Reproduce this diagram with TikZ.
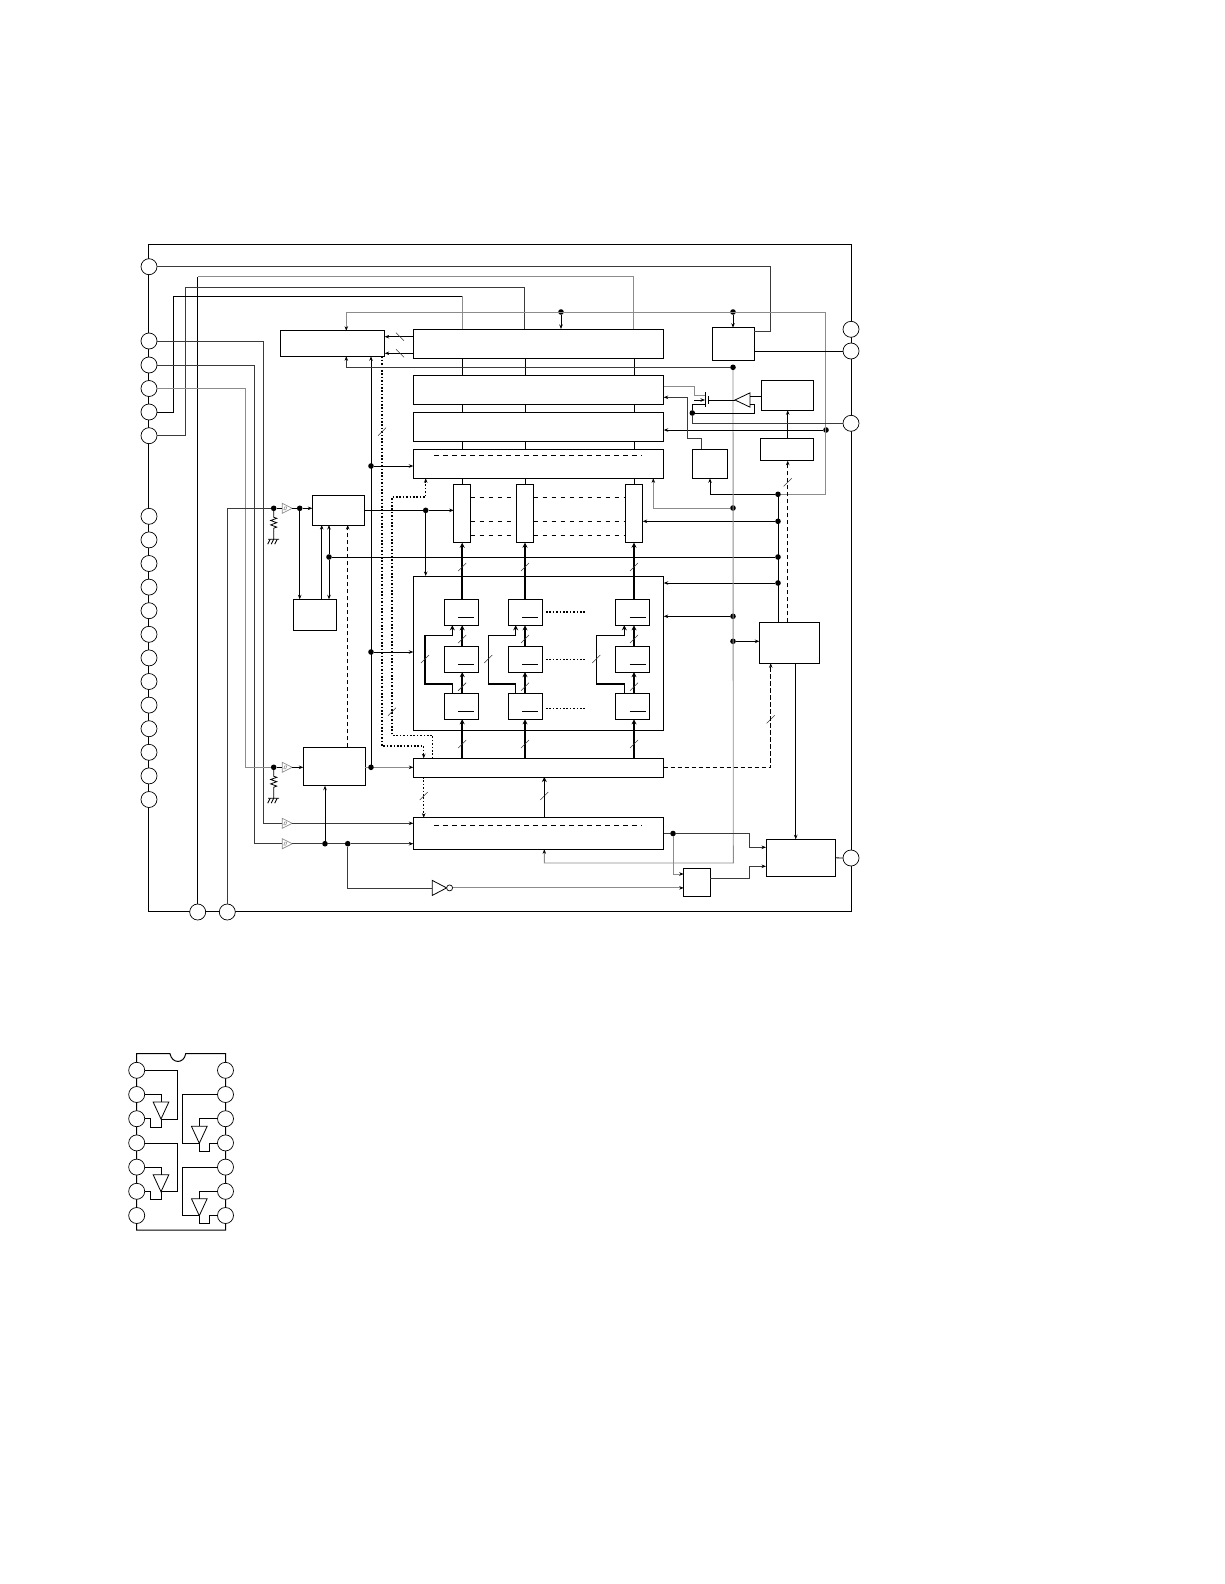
\documentclass[tikz,border=0pt]{standalone}
\definecolor{wiregrey}{HTML}{3A3A3A}
\definecolor{palegrey}{HTML}{8C8C8C}
\usepackage{tikz}
\usetikzlibrary{positioning,shapes.geometric,arrows.meta,calc}
\newcommand{\busslash}[1]{\draw[slashmark] #1 ++(-4,4) -- ++(8,-8);}
\newcommand{\tiedown}[1]{%
  \draw[strong] (#1) -- ++(0,9) -- ++(3,1) -- ++(-6,2.2) -- ++(6,2.2) -- ++(-6,2.2) -- ++(6,2.2) -- ++(-3,1.1) -- ++(0,11) coordinate (gnd) ++(-5.5,0) -- ++(11,0);
  \foreach \gx in {-3.5,0,3.5} {\draw[strong] ($(gnd)+(\gx,0)$) -- ++(-2.5,5);}}

\begin{document}
\begin{tikzpicture}[
  x=1pt, y=-1pt,
  block/.style={draw=black, fill=white, line width=0.9pt, inner sep=0pt, outer sep=0pt},
  cell/.style={block, minimum width=33.7pt, minimum height=26pt},
  mem/.style={block, minimum width=250.4pt, minimum height=29pt},
  col/.style={block, minimum height=58.4pt},
  pad/.style={draw=black, fill=white, circle, line width=0.7pt, minimum size=16pt, inner sep=0pt, outer sep=0pt},
  dot/.style={fill=black, circle, minimum size=5.6pt, inner sep=0pt, outer sep=0pt},
  wire/.style={wiregrey, line width=0.7pt},
  pale/.style={palegrey, line width=0.9pt},
  strong/.style={black, line width=0.8pt},
  bus/.style={black, line width=1.5pt},
  arrow/.style={-{Stealth[length=4.5pt,width=3.5pt,black]}},
  busarrow/.style={-{Stealth[length=5pt,width=5pt,black]}},
  dashbus/.style={black, line width=1.4pt, dash pattern=on 4.5pt off 2.5pt},
  dotbus/.style={black, line width=1.2pt, dash pattern=on 1.6pt off 1.8pt},
  rowdash/.style={black, line width=0.5pt, dash pattern=on 4.5pt off 4.5pt},
  slashmark/.style={wiregrey, line width=0.6pt},
  buffer/.style={draw=palegrey, fill=white, isosceles triangle, isosceles triangle stretches, line width=0.7pt, minimum width=10pt, minimum height=10pt, inner sep=0pt, outer sep=0pt, anchor=lower side},
  tri/.style={draw=black, fill=white, isosceles triangle, isosceles triangle stretches, line width=0.8pt, inner sep=0pt, outer sep=0pt, anchor=lower side}
]
  \useasboundingbox (0,0) rectangle (1224,1584);

  % chip outline and pads
  \node[draw=black, line width=1.6pt, minimum width=703pt, minimum height=667pt, inner sep=0pt] (chip) at (500,578) {};
  \foreach \n/\y in {1/266.7,2/341,3/365,4/388.5,5/412,6/435.7,7/516.3,8/539.9,9/563.5,10/587.1,11/610.7,12/634.3,13/657.9,14/681.5,15/705.1,16/728.7,17/752.3,18/775.9,19/799.5}
    {\node[pad] (pinL\n) at (149,\y) {};}
  \node[pad] (pinB1) at (197.7,912) {};
  \node[pad] (pinB2) at (227.3,912) {};
  \node[pad] (pinR1) at (851,329.3) {};
  \node[pad] (pinR2) at (851,351) {};
  \node[pad] (pinR3) at (851,423.3) {};
  \node[pad] (pinR4) at (851,858) {};

  % blocks
  \node[block, minimum width=104pt, minimum height=25.6pt] (shreg) at (332.7,343.5) {};
  \node[mem] (memA) at (538.5,343.5) {};
  \node[mem] (memB) at (538.5,389.8) {};
  \node[mem] (memC) at (538.5,426.8) {};
  \node[mem] (memD) at (538.5,463.8) {};
  \node[col, minimum width=17pt] (colA) at (462.2,513.5) {};
  \node[col, minimum width=17.4pt] (colB) at (525,513.5) {};
  \node[col, minimum width=17.4pt] (colC) at (634,513.5) {};
  \node[block, minimum width=51.7pt, minimum height=29.3pt] (ctlB) at (338.15,510.35) {};
  \node[block, minimum width=42.6pt, minimum height=31pt] (ctlC) at (315,614.8) {};
  \node[block, minimum width=61.7pt, minimum height=38.4pt] (ctlD) at (334.15,766.5) {};
  \node[block, minimum width=250.4pt, minimum height=154pt] (memE) at (538.5,653) {};
  \node[block, minimum width=250.4pt, minimum height=18.7pt] (barF) at (538.5,767.65) {};
  \node[block, minimum width=250.4pt, minimum height=31.6pt] (memG) at (538.5,833.5) {};
  \node[block, minimum width=42.3pt, minimum height=32.6pt] (memH) at (733.15,344) {};
  \node[block, minimum width=52pt, minimum height=29.6pt] (memI) at (787.7,395.5) {};
  \node[block, minimum width=53.4pt, minimum height=22.7pt] (memJ) at (787,449.35) {};
  \node[block, minimum width=35.4pt, minimum height=29pt] (memK) at (710,463.8) {};
  \node[block, minimum width=60pt, minimum height=41pt] (memL) at (789.3,642.8) {};
  \node[block, minimum width=69.3pt, minimum height=37pt] (memM) at (800.65,857.8) {};
  \node[block, minimum width=26.3pt, minimum height=27.6pt] (memN) at (696.85,882.5) {};
  \foreach \c/\cx in {A/461.15,B/525.15,C/632.7}
    \foreach \r/\cy in {1/612.3,2/659.15,3/706.3} {
      \node[cell] (cell\c\r) at (\cx,\cy) {};
      \draw[strong] ($(cell\c\r)+(-3,5)$) -- ++(16,0);
    }

  % buffers, amplifier, inverter
  \node[buffer] (bufA) at (282.3,508.3) {};
  \node[buffer] (bufD) at (282.3,767.3) {};
  \node[buffer] (bufB) at (282.3,823.3) {};
  \node[buffer] (bufC) at (282.3,843.7) {};
  \foreach \b in {bufA,bufB,bufC,bufD}
    {\draw[palegrey, line width=0.5pt] ($(\b.lower side)+(1.5,1.5)$) -- ++(2,0) -- ++(1,-3) -- ++(-2,0) -- cycle;}
  \node[tri, shape border rotate=180, minimum width=14.3pt, minimum height=15pt] (amp) at (750,400) {};
  \node[tri, minimum width=15pt, minimum height=14.3pt] (inv) at (432.3,887.9) {};
  \node[draw=black, fill=white, circle, line width=0.7pt, minimum size=6pt, inner sep=0pt, outer sep=0pt, right=0pt of inv.apex] (invdot) {};

  % junctions
  \foreach \j/\x/\y in {jA/273.7/508.3,jB/299.7/508.3,jC/273.7/767.3,jD/325/843.7,jE/347.7/843.7,jF/371/767.3,jG/371/466,jH/371/652,jI/425.7/510.35,jJ/329/557,jK/778/557,jL/778/494.3,jM/778/521.3,jN/778/583,jP/561/312,jQ/733/312,jR/733/367.3,jS/733/508,jT/733/616.3,jU/733/641.3,jV/692.3/413,jW/826/430,jX/673/833.5}
    {\node[dot] (\j) at (\x,\y) {};}

  % rails and corners
  \coordinate (topH) at (770.3,331.7);
  \coordinate (clkA) at (197.7,276.7);
  \coordinate (clkB) at (633.7,276.7);
  \coordinate (railC) at (185.3,287.3);
  \coordinate (railD) at (524.3,287.3);
  \coordinate (railE) at (173.3,296.3);
  \coordinate (railF) at (462.3,296.3);
  \coordinate (railG) at (263.3,0);
  \coordinate (railH) at (245.3,0);
  \coordinate (railI) at (254.3,0);
  \coordinate (railT) at (346.3,312);
  \coordinate (cornerA) at (825.7,312);
  \coordinate (cornerB) at (825.7,494.3);
  \coordinate (cornerC) at (733.3,863);
  \coordinate (busG) at (544.3,800);
  \coordinate (busD) at (653.3,508);
  \coordinate (busP) at (321.7,560);
  \coordinate (busR) at (347.7,600);
  \coordinate (busM) at (795.7,700);
  \coordinate (dashL) at (770.7,767.65);
  \coordinate (dotUp) at (382,746);
  \coordinate (dotIn) at (423.7,746);
  \coordinate (dotA) at (432.7,735.3);
  \coordinate (dotB) at (392,735.3);
  \coordinate (dotC) at (392,497);
  \coordinate (dotD) at (425.7,497);
  \coordinate (lnkA) at (400,336.7);
  \coordinate (lnkB) at (400,353.3);
  \coordinate (fbA) at (687.3,397.3);
  \coordinate (fbB) at (687.3,438);
  \coordinate (fbC) at (701.7,438);
  \coordinate (mergeA) at (749.3,847.3);
  \coordinate (mergeB) at (749.3,866.3);
  \coordinate (nOut) at (710,878.7);

  % pad wiring
  \draw[wire] (pinL1.east) -| (topH) -- (topH -| memH.east);
  \draw[strong] (pinB1.north) -- (clkA);
  \draw[pale] (clkA) -- (clkB) -- (clkB |- memA.north);
  \draw[wire] (pinL6.east) -| (railC) -- (railD) -- (railD |- memA.north);
  \draw[strong] (pinL5.east) -| (railE) -- (railF);
  \draw[pale] (railF) -- (railF |- memA.north);
  \draw[wire] (pinL2.east) -- (pinL2 -| railG) |- (bufB.lower side);
  \draw[wire] (pinL3.east) -- (pinL3 -| railI) |- (bufC.lower side);
  \draw[pale] (pinL4.east) -- (pinL4 -| railH) |- (jC);
  \draw[wire] (pinB2.north) |- (jA);
  \draw[strong] (jA) -- (bufA.lower side);
  \draw[strong] (jC) -- (bufD.lower side);
  \tiedown{jA}
  \tiedown{jC}
  \draw[strong] (bufA.apex) -- (jB);
  \draw[arrow, strong] (jB) -- (jB -| ctlB.west);
  \draw[arrow, strong] (jB) -- (jB |- ctlC.north);
  \draw[arrow, strong] (bufD.apex) -- (bufD.apex -| ctlD.west);
  \draw[arrow, wire] (bufB.apex) -- (bufB.apex -| memG.west);
  \draw[wire] (bufC.apex) -- (jD) -- (jE);
  \draw[arrow, wire] (jE) -- (jE -| memG.west);
  \draw[arrow, strong] (jD) -- (jD |- ctlD.south);
  \draw[wire] (jE) |- (inv.lower side);
  \draw[arrow, pale] (invdot.east) -- (invdot.east -| memN.west);

  % left side buses
  \draw[pale] (ctlD.east |- jF) -- (jF);
  \draw[arrow, pale] (jF) -- (jF -| barF.west);
  \draw[arrow, strong] (jF) -- (jF |- shreg.south);
  \draw[arrow, strong] (jG) -- (jG -| memD.west);
  \draw[arrow, strong] (jH) -- (jH -| memE.west);
  \draw[strong] (ctlB.east) -- (jI);
  \draw[arrow, strong] (jI) -- (jI -| colA.west);
  \draw[arrow, strong] (jI) -- (jI |- memE.north);
  \draw[arrow, strong] (busP |- ctlC.north) -- (busP |- ctlB.south);
  \draw[arrow, strong] (jJ) -- (jJ |- ctlB.south);
  \draw[arrow, strong] (jJ) -- (jJ |- ctlC.north);
  \draw[strong] (jJ) -- (jK);
  \draw[arrow, dashbus] (busR |- ctlD.north) -- (busR |- ctlB.south);
  \draw[arrow, dotbus] (dotUp |- shreg.south) -- (dotUp) -- (dotIn) -- (dotIn |- barF.north);
  \draw[arrow, dotbus] (dotA |- barF.north) -- (dotA) -- (dotB) -- (dotC) -- (dotD) -- (dotD |- memD.south);
  \draw[arrow, dotbus] (dotIn |- barF.south) -- (dotIn |- memG.north);
  \draw[arrow, strong] (lnkA -| memA.west) -- (lnkA -| shreg.east);
  \draw[arrow, strong] (lnkB -| memA.west) -- (lnkB -| shreg.east);
  \draw[slashmark] ($(lnkA)+(-4,-4)$) -- ++(8,8);
  \draw[slashmark] ($(lnkB)+(-4,-4)$) -- ++(8,8);
  \busslash{(382,431.7)}
  \busslash{(392,711.7)}
  \busslash{(423.7,796)}
  \busslash{(544.3,796)}
  \busslash{(787.7,482.3)}
  \busslash{(770.7,719.3)}

  % memory stack and columns
  \foreach \c in {colA,colB,colC} {
    \draw[strong] (\c.north |- memA.south) -- (\c.north |- memB.north);
    \draw[strong] (\c.north |- memB.south) -- (\c.north |- memC.north);
    \draw[strong] (\c.north |- memC.south) -- (\c.north |- memD.north);
    \draw[strong] (\c.north |- memD.south) -- (\c.north);
  }
  \draw[rowdash] (434.3,455.7) -- (641.7,455.7);
  \draw[rowdash] (434.3,825.7) -- (641.7,825.7);
  \foreach \y in {497.3,521.3,535.3} {
    \draw[rowdash] (colA.east |- 0,\y) -- (colB.west |- 0,\y);
    \draw[rowdash] (colB.east |- 0,\y) -- (colC.west |- 0,\y);
  }
  \foreach \c/\lx/\ux in {A/425/452.3,B/488.3/515.7,C/596.3/624.3} {
    \draw[busarrow, bus] (col\c.south |- cell\c1.north) -- (col\c.south);
    \draw[busarrow, bus] (col\c.south |- cell\c2.north) -- (col\c.south |- cell\c1.south);
    \draw[busarrow, bus] (col\c.south |- cell\c3.north) -- (col\c.south |- cell\c2.south);
    \draw[busarrow, bus] (col\c.south |- barF.north) -- (col\c.south |- cell\c3.south);
    \draw[busarrow, black, line width=1.2pt] (\ux,0 |- cell\c3.north) -- (\ux,684) -- (\lx,684) -- (\lx,635.7) -- (\ux,635.7) -- (\ux,0 |- cell\c1.south);
    \foreach \sy in {567,639,686.7,744} {\busslash{(col\c.south |- 0,\sy)}}
    \busslash{(\lx,659)}
  }
  \foreach \sy in {612,659.7,708.7}
    {\draw[dotbus] (546,\sy) -- (586,\sy);}
  \draw[busarrow, bus] (busG |- memG.north) -- (busG |- barF.south);

  % right side wiring
  \draw[arrow, pale] (railT) -- (railT |- shreg.north);
  \draw[pale] (railT) -- (cornerA) -- (cornerB) -- (jL);
  \draw[arrow, strong] (jL) -- (jL -| memK.south) -- (memK.south);
  \draw[strong] (memL.north -| jK) -- (jL);
  \draw[arrow, strong] (jM) -- (jM -| colC.east);
  \draw[arrow, strong] (jN) -- (jN -| memE.east);
  \draw[arrow, strong] (jP) -- (jP |- memA.north);
  \draw[arrow, strong] (jQ) -- (jQ |- memH.north);
  \draw[arrow, wire] (jR) -- (jR -| railT) -- (railT |- shreg.south);
  \draw[arrow, pale] (jR) -- (cornerC) -- (cornerC -| busG) -- (busG |- memG.south);
  \draw[arrow, pale] (jS) -- (busD) -- (busD |- memD.south);
  \draw[arrow, strong] (jT) -- (jT -| memE.east);
  \draw[arrow, strong] (jU) -- (jU -| memL.west);
  \draw[strong] (memH.east |- pinR2) -- (pinR2.west);
  \draw[arrow, dashbus] (barF.east) -- (dashL) -- (dashL |- memL.south);
  \draw[arrow, strong] (busM |- memL.south) -- (busM |- memM.north);
  \draw[strong] (memM.east) -- (pinR4.west);
  \draw[arrow, dashbus] (memL.north -| memI.south) -- (memJ.south -| memI.south);
  \draw[arrow, strong] (memJ.north -| memI.south) -- (memI.south);
  \draw[arrow, strong] (jW) -- (jW -| memC.east);
  \draw[arrow, wire] (fbC |- memK.north) -- (fbC) -- (fbB) -- (fbA) -- (fbA -| memB.east);
  \draw[wire] (memG.east |- jX) -- (jX);
  \draw[arrow, wire] (jX) -| (mergeA) -- (mergeA -| memM.west);
  \draw[arrow, pale] (jX) |- (memN.west |- 0,874);
  \draw[arrow, wire] (nOut) -| (mergeB) -- (mergeB -| memM.west);

  % pass transistor
  \draw[pale] (memB.east |- 0,386.7) -- (694,386.7) -- (694,395.7) -- (705,395.7);
  \draw[strong] (705,392.3) -- (705,406.7);
  \draw[strong] (708.7,396) -- (708.7,404);
  \draw[strong] (708.7,400) -- (amp.apex);
  \draw[arrow, strong] (694,400) -- (705,400);
  \draw[strong] (705,404) -- (692.3,404) -- (jV);
  \draw[strong] (jV) -- (754.3,413) -- (754.3,404) -- (750,404);
  \draw[strong] (750,396) -- (memI.west |- 0,396);
  \draw[wire] (jV) |- (pinR3.west);

  % package pinout
  \draw[black, line width=1pt] (136.7,1230) -- (136.7,1053.7) -- (170,1053.7) .. controls (172,1064) and (184,1064) .. (185.7,1053.7) -- (225.5,1053.7) -- (225.5,1230) -- cycle;
  \foreach \n/\y in {1/1070.3,2/1094.5,3/1118.7,4/1142.9,5/1167.1,6/1191.3,7/1215.5} {
    \node[pad] (dipL\n) at (136.7,\y) {};
    \node[pad] (dipR\n) at (225.5,\y) {};
  }
  \coordinate (dipX) at (177.3,0);
  \coordinate (dipY) at (150.7,0);
  \coordinate (dipU) at (182.7,0);
  \coordinate (dipV) at (209.3,0);
  \foreach \m/\tx/\ty in {A/161/1102,B/199.3/1126.3,C/161/1174.7,D/199.3/1198.7}
    {\node[tri, shape border rotate=270, minimum width=15.7pt, minimum height=17pt] (dipAmp\m) at (\tx,\ty) {};}
  \foreach \m/\a/\b/\c in {A/1/2/3,C/4/5/6} {
    \draw[strong] (dipL\a.east) -- (dipL\a -| dipX) |- (dipAmp\m.apex);
    \draw[strong] (dipL\b.east) -| (dipAmp\m.lower side);
    \draw[strong] (dipL\c.east) -- (dipL\c -| dipY) -- ++(0,8.5) -| (dipAmp\m.apex);
  }
  \foreach \m/\a/\b/\c in {B/2/3/4,D/5/6/7} {
    \draw[strong] (dipR\a.west) -- (dipR\a -| dipU) |- (dipAmp\m.apex);
    \draw[strong] (dipR\b.west) -| (dipAmp\m.lower side);
    \draw[strong] (dipR\c.west) -- (dipR\c -| dipV) -- ++(0,8) -| (dipAmp\m.apex);
  }
\end{tikzpicture}
\end{document}
